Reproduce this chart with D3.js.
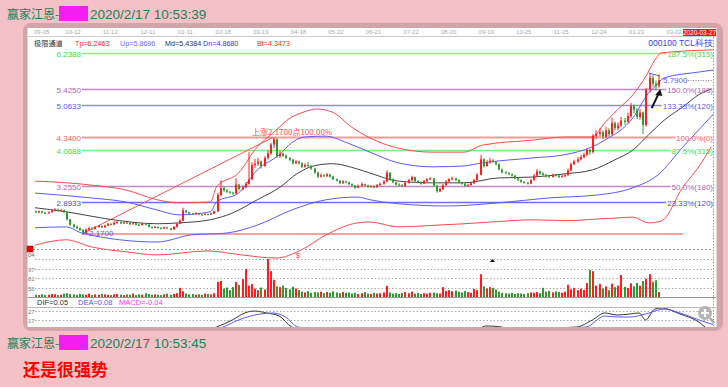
<!DOCTYPE html>
<html><head><meta charset="utf-8">
<script src="https://cdn.jsdelivr.net/npm/d3@7"></script>
<style>
html,body{margin:0;padding:0;background:#f4c1c6;overflow:hidden;}
svg{display:block;}
</style></head><body>
<svg id="c" width="728" height="387"></svg>
<script>
// ---------- data ----------
const dateLabels = ["09-05","10-12","11-12","12-11","01-11","02-18","03-19","04-18","05-22","06-21","07-22","08-20","09-19","10-25","11-25","12-24","01-23","03-02"];
const dateIdx = [0,10,22,34,46,58,70,82,94,106,118,130,142,154,166,178,190,202];

const openP = [2.68,2.66,2.68,2.65,2.64,2.66,2.70,2.72,2.69,2.71,2.66,2.50,2.38,2.33,2.30,2.26,2.20,2.27,2.30,2.28,
2.33,2.35,2.32,2.36,2.40,2.38,2.42,2.44,2.41,2.43,2.42,2.39,2.41,2.38,2.37,2.40,2.38,2.33,2.31,2.33,
2.31,2.29,2.32,2.30,2.27,2.33,2.40,2.47,2.70,2.66,2.63,2.62,2.64,2.61,2.60,2.62,2.61,2.63,2.68,3.05,
3.20,3.15,3.12,3.10,3.08,3.28,3.18,3.22,3.30,3.40,3.72,3.75,3.80,3.70,3.88,3.98,4.18,4.30,3.92,3.98,
3.93,3.88,3.84,3.76,3.80,3.76,3.68,3.72,3.70,3.64,3.55,3.46,3.49,3.47,3.51,3.46,3.40,3.37,3.31,3.35,
3.33,3.29,3.26,3.21,3.25,3.29,3.26,3.23,3.25,3.22,3.27,3.30,3.35,3.55,3.40,3.33,3.28,3.27,3.25,3.32,
3.38,3.45,3.36,3.33,3.30,3.36,3.40,3.42,3.26,3.13,3.18,3.27,3.35,3.40,3.42,3.38,3.33,3.30,3.25,3.27,
3.31,3.38,3.50,3.85,3.70,3.78,3.82,3.79,3.74,3.62,3.56,3.54,3.51,3.48,3.42,3.38,3.34,3.32,3.30,3.38,
3.48,3.58,3.53,3.50,3.47,3.45,3.50,3.48,3.45,3.47,3.49,3.60,3.74,3.80,3.85,3.90,3.95,4.06,4.01,4.38,
4.42,4.46,4.36,4.50,4.41,4.66,4.55,4.61,4.72,4.69,4.82,5.05,4.96,4.80,4.90,4.62,5.42,5.68,5.55,5.50];
const closeP = [2.66,2.68,2.65,2.64,2.66,2.70,2.72,2.69,2.71,2.66,2.50,2.38,2.33,2.30,2.26,2.20,2.27,2.30,2.28,2.33,
2.35,2.32,2.36,2.40,2.38,2.42,2.44,2.41,2.43,2.42,2.39,2.41,2.38,2.37,2.40,2.38,2.33,2.31,2.33,2.31,
2.29,2.32,2.30,2.27,2.33,2.40,2.47,2.70,2.66,2.63,2.62,2.64,2.61,2.60,2.62,2.61,2.63,2.68,3.05,3.20,
3.15,3.12,3.10,3.08,3.28,3.18,3.22,3.30,3.40,3.72,3.75,3.80,3.70,3.88,3.98,4.18,4.30,3.92,3.98,3.93,
3.88,3.84,3.76,3.80,3.76,3.68,3.72,3.70,3.64,3.55,3.46,3.49,3.47,3.51,3.46,3.40,3.37,3.31,3.35,3.33,
3.29,3.26,3.21,3.25,3.29,3.26,3.23,3.25,3.22,3.27,3.30,3.35,3.55,3.40,3.33,3.28,3.27,3.25,3.32,3.38,
3.45,3.36,3.33,3.30,3.36,3.40,3.42,3.26,3.13,3.18,3.27,3.35,3.40,3.42,3.38,3.33,3.30,3.25,3.27,3.31,
3.38,3.50,3.85,3.70,3.78,3.82,3.79,3.74,3.62,3.56,3.54,3.51,3.48,3.42,3.38,3.34,3.32,3.30,3.38,3.48,
3.58,3.53,3.50,3.47,3.45,3.50,3.48,3.45,3.47,3.49,3.60,3.74,3.80,3.85,3.90,3.95,4.06,4.01,4.38,4.42,
4.46,4.36,4.50,4.41,4.66,4.55,4.61,4.72,4.69,4.82,5.05,4.96,4.80,4.90,4.62,5.42,5.68,5.55,5.50,5.63];
const highP = [2.70,2.70,2.69,2.67,2.68,2.72,2.75,2.74,2.73,2.72,2.67,2.51,2.40,2.36,2.32,2.28,2.29,2.33,2.32,2.35,
2.37,2.36,2.38,2.42,2.41,2.46,2.47,2.45,2.45,2.44,2.43,2.43,2.42,2.40,2.42,2.41,2.39,2.34,2.35,2.34,
2.32,2.34,2.33,2.31,2.35,2.42,2.50,2.76,2.71,2.67,2.65,2.66,2.65,2.63,2.64,2.63,2.65,2.70,3.10,3.38,
3.24,3.18,3.14,3.12,3.42,3.30,3.26,3.34,4.01,3.78,3.86,3.88,3.82,3.92,4.05,4.22,4.34,4.32,4.05,4.00,
3.96,3.90,3.86,3.83,3.82,3.78,3.76,3.79,3.72,3.66,3.57,3.53,3.52,3.54,3.52,3.48,3.42,3.38,3.38,3.37,
3.35,3.31,3.27,3.28,3.33,3.30,3.28,3.27,3.26,3.29,3.33,3.38,3.60,3.56,3.42,3.35,3.31,3.29,3.34,3.41,
3.48,3.46,3.38,3.35,3.39,3.43,3.45,3.43,3.27,3.21,3.30,3.38,3.43,3.46,3.43,3.40,3.35,3.32,3.30,3.34,
3.41,3.54,3.95,3.87,3.83,3.88,3.86,3.81,3.76,3.64,3.58,3.56,3.53,3.50,3.44,3.40,3.36,3.34,3.41,3.52,
3.63,3.60,3.56,3.52,3.50,3.53,3.52,3.50,3.50,3.52,3.64,3.78,3.84,3.90,3.95,4.00,4.10,4.08,4.42,4.50,
4.55,4.50,4.58,4.55,4.78,4.70,4.68,4.80,4.78,4.90,5.12,5.08,5.00,4.98,4.92,5.45,5.79,5.74,5.62,5.76];
const lowP = [2.64,2.64,2.63,2.62,2.62,2.65,2.68,2.67,2.67,2.64,2.47,2.35,2.30,2.28,2.24,2.17,2.19,2.25,2.26,2.27,
2.31,2.30,2.31,2.35,2.36,2.37,2.40,2.39,2.40,2.40,2.37,2.38,2.36,2.35,2.36,2.36,2.31,2.29,2.30,2.29,
2.27,2.28,2.28,2.25,2.26,2.32,2.39,2.46,2.63,2.61,2.60,2.60,2.59,2.58,2.59,2.59,2.60,2.62,2.67,3.02,
3.12,3.09,3.07,3.05,3.07,3.15,3.15,3.20,3.28,3.38,3.66,3.70,3.64,3.68,3.84,3.95,4.10,3.88,3.88,3.90,
3.85,3.80,3.73,3.74,3.73,3.65,3.66,3.67,3.61,3.52,3.43,3.44,3.45,3.45,3.44,3.38,3.35,3.29,3.30,3.31,
3.27,3.24,3.18,3.20,3.24,3.24,3.21,3.21,3.20,3.21,3.25,3.28,3.34,3.37,3.31,3.26,3.25,3.23,3.24,3.30,
3.36,3.33,3.31,3.28,3.29,3.34,3.38,3.23,3.10,3.11,3.16,3.25,3.33,3.38,3.36,3.31,3.28,3.23,3.23,3.26,
3.30,3.37,3.49,3.66,3.68,3.75,3.76,3.71,3.60,3.53,3.51,3.49,3.46,3.40,3.36,3.32,3.30,3.28,3.29,3.37,
3.46,3.50,3.48,3.44,3.43,3.44,3.46,3.43,3.44,3.45,3.48,3.58,3.72,3.77,3.82,3.87,3.92,3.95,3.98,4.30,
4.36,4.30,4.33,4.36,4.38,4.50,4.50,4.58,4.62,4.66,4.78,4.88,4.75,4.74,4.42,4.58,5.35,5.48,5.40,5.46];
const volume = [6,5,7,5,6,8,7,5,6,9, 10,8,7,6,8,7,6,9,5,7, 6,8,7,6,5,7,8,6,5,7, 6,9,5,7,6,10,8,6,7,6,
5,7,9,6,8,10,24,15,9,7, 8,6,7,6,9,8,7,10,40,42, 22,25,18,26,40,32,47,74,30,34, 22,18,25,20,100,68,45,28,26,30,
24,20,27,22,18,14,12,15,11,13, 12,14,10,13,11,15,12,10,13,11, 12,9,11,8,10,13,9,8,11,9, 10,12,29,12,9,10,8,11,13,10,
14,9,11,8,10,9,11,12,10,9, 26,16,18,15,17,14,12,16,13,11, 21,18,60,28,22,26,24,20,14,11, 10,9,11,8,10,9,8,10,12,11,
13,10,24,14,16,12,15,13,11,14, 32,20,24,18,22,19,37,71,68,30, 34,22,28,18,35,26,30,58,27,24, 36,28,37,30,42,48,60,40,44,13];

// channel curves (index, price)
const redUpIdx = [0,18,29,39,46,56,58,65,71,76,82,85,90,95,101,107,116,127,137,143,159,169,178,182,186,191,195,198,200,217];
const redUpVal = [3.36,3.27,3.16,2.94,2.87,2.89,3.23,3.54,4.13,4.44,4.80,4.89,4.98,4.91,4.58,4.33,4.10,4.01,4.01,4.17,4.28,4.35,4.35,4.67,4.96,5.30,5.70,6.08,6.24,6.31];
const blueUpIdx = [0,18,29,39,46,56,58,65,71,78,82,86,93,99,107,116,127,137,143,159,169,178,182,191,196,198,201,212,217];
const blueUpVal = [3.09,2.98,2.89,2.71,2.60,2.67,2.89,3.09,3.61,3.95,4.22,4.35,4.37,4.24,4.01,3.77,3.68,3.70,3.77,3.88,3.95,4.13,4.28,4.78,5.34,5.48,5.68,5.81,5.86];
const midIdx = [0,10,23,39,46,56,63,71,78,84,89,95,103,107,116,127,137,148,159,169,178,185,191,196,201,207,212,216];
const midVal = [2.76,2.67,2.51,2.40,2.42,2.49,2.64,2.94,3.21,3.54,3.70,3.75,3.63,3.54,3.36,3.32,3.32,3.43,3.45,3.52,3.61,3.83,4.06,4.40,4.73,5.03,5.30,5.43];
const blueLoIdx = [0,10,15,39,50,61,71,82,93,103,107,116,132,148,164,180,191,199,207,212,217];
const blueLoVal = [2.31,2.33,2.19,1.99,2.15,2.19,2.37,2.71,2.94,3.00,2.94,2.85,2.80,2.87,2.98,3.05,3.21,3.50,4.13,4.51,4.89];
const redLoIdx = [0,10,18,29,39,55,66,77,85,93,103,107,116,126,137,148,159,170,180,186,191,196,200,207,212,216];
const redLoVal = [1.92,2.04,1.88,1.77,1.70,1.79,1.70,1.63,1.81,2.15,2.42,2.44,2.33,2.36,2.40,2.45,2.49,2.47,2.51,2.53,2.55,2.42,2.46,3.23,3.68,4.13];

// Gann / fib levels
const levelVals = [6.2388,5.4250,5.0633,4.3400,4.0688,3.2550,2.8933];
const levelLeft = ["6.2388","5.4250","5.0633","4.3400","4.0688","3.2550","2.8933"];
const levelRight = ["187.5%(315)","150.0%(180)","133.33%(120)","100.0%(0)","87.5%(315)","50.0%(180)","23.33%(120)"];
const levelLine = ["#7cf07c","#c487c4","#8d8dff","#ff9a9a","#7cf07c","#c487c4","#6f6fff"];
const levelText = ["#3fdc3f","#b060b0","#5a5af0","#ff5a5a","#3fdc3f","#b060b0","#4a4ae8"];

// MACD
const difIdx = [0,20,45,58,63,67,70,74,78,82,91,120,142,144,148,152,173,178,182,186,190,193,195,198,200,206,212,214,217];
const difVal = [-0.05,-0.10,-0.08,0,0.07,0.14,0.16,0.14,0.11,0,-0.06,-0.05,-0.01,0.01,0.005,-0.02,0,0.07,0.14,0.12,0.13,0.14,0.07,0.18,0.19,0.13,0.05,0,-0.05];
const deaIdx = [0,20,45,60,65,72,76,80,84,100,140,160,176,182,186,190,195,201,206,214,217];
const deaVal = [-0.04,-0.08,-0.07,0,0.07,0.13,0.14,0.10,0,-0.05,-0.03,-0.02,0,0.11,0.10,0.10,0.13,0.18,0.14,0.05,0.02];

const infoLabels = ["极限通道","Tp=6.2463","Up=5.8696","Md=5.4384","Dn=4.8680","Bt=4.3473"];
const infoColors = ["#333","#ff2a2a","#6b6bff","#333","#3535f0","#ff2a2a"];
const macdLabels = ["DIF=0.05","DEA=0.08","MACD=-0.04"];
const macdColors = ["#333","#5a5af0","#ff33ff"];

// ---------- drawing ----------
const svg = d3.select("#c");
const F = "Arial, 'Liberation Sans', sans-serif";
const CJK = "'Noto Sans CJK SC', sans-serif";

// window frame
svg.append("rect").attr("x",23).attr("y",23).attr("width",700).attr("height",308).attr("rx",8).attr("fill","#d2a5ab");
svg.append("rect").attr("x",27.5).attr("y",28).attr("width",689).attr("height",299).attr("fill","#fff");

const defs = svg.append("defs");
defs.append("clipPath").attr("id","cp").append("rect").attr("x",28).attr("y",37).attr("width",685).attr("height",224);
defs.append("clipPath").attr("id","cm").append("rect").attr("x",28).attr("y",308).attr("width",685).attr("height",19);

const x = d3.scaleLinear().domain([0,199]).range([35,658]);
const y = d3.scaleLinear().domain([2.17,6.2388]).range([234,53]);
const yv = d3.scaleLinear().domain([0,100]).range([297,259]);
const ym = d3.scaleLinear().domain([0,0.2]).range([327,307]);

// date axis
svg.append("line").attr("x1",28).attr("x2",716).attr("y1",36.5).attr("y2",36.5).attr("stroke","#ccc");
svg.selectAll(".dl").data(dateLabels).enter().append("text")
  .attr("x",(d,i)=>x(dateIdx[i])-1).attr("y",34).text(d=>d)
  .attr("font-family",F).attr("font-size",6).attr("fill","#aaa");
svg.append("rect").attr("x",683).attr("y",29).attr("width",33).attr("height",7).attr("fill","#ff1010");
svg.append("text").attr("x",699.5).attr("y",35).attr("text-anchor","middle").text("2020-03-27")
  .attr("font-family",F).attr("font-size",6.5).attr("fill","#fff");

// info row
const infoX = [34,75,120,165,203,257];
svg.selectAll(".il").data(infoLabels).enter().append("text")
  .attr("x",(d,i)=>infoX[i]).attr("y",46).text(d=>d)
  .attr("font-family",(d,i)=>i===0?CJK:F).attr("font-size",7.2).attr("fill",(d,i)=>infoColors[i]);
svg.append("text").attr("x",713).attr("y",46).attr("text-anchor","end").text("000100 TCL科技")
  .attr("font-family",F).attr("font-size",8.5).attr("fill","#3b3bff");

// right vertical dotted line
svg.append("line").attr("x1",713.5).attr("x2",713.5).attr("y1",37).attr("y2",327).attr("stroke","#999").attr("stroke-dasharray","1.5,1.5");

const gp = svg.append("g").attr("clip-path","url(#cp)");

// levels
levelVals.forEach((v,i)=>{
  const yy = Math.round(y(v))+0.5;
  const t = svg.append("text").attr("x",713).attr("y",yy+3).attr("text-anchor","end").text(levelRight[i])
    .attr("font-family",F).attr("font-size",8).attr("fill",levelText[i]);
  const w = t.node().getComputedTextLength();
  gp.insert("line",":first-child").attr("x1",x(15)).attr("x2",713-w-1).attr("y1",yy).attr("y2",yy)
    .attr("stroke",levelLine[i]).attr("stroke-width",i===3?2:1.5);
  svg.append("text").attr("x",81).attr("y",yy+3).attr("text-anchor","end").text(levelLeft[i])
    .attr("font-family",F).attr("font-size",8).attr("fill",levelText[i]);
});
// base line at low
gp.append("line").attr("x1",x(15)).attr("x2",x(207)).attr("y1",y(2.17)).attr("y2",y(2.17)).attr("stroke","#ff4040").attr("stroke-width",1);
// trend line low -> high
gp.append("line").attr("x1",x(15)).attr("y1",y(2.17)).attr("x2",x(76)).attr("y2",y(4.34)).attr("stroke","#ff5050").attr("stroke-width",1);

// curves
const line = d3.line().x(d=>x(d[0])).y(d=>y(d[1])).curve(d3.curveMonotoneX);
const curves = [[redUpIdx,redUpVal,"#ff4a4a"],[blueUpIdx,blueUpVal,"#5a5aff"],[midIdx,midVal,"#444"],[blueLoIdx,blueLoVal,"#5a5aff"],[redLoIdx,redLoVal,"#ff4a4a"]];
curves.forEach(c=>{
  gp.append("path").attr("d",line(c[0].map((d,i)=>[d,c[1][i]]))).attr("fill","none").attr("stroke",c[2]).attr("stroke-width",1);
});

// candles
const idx = d3.range(closeP.length);
const up = i => closeP[i] >= openP[i];
const RED = "#ff1e1e", GREEN = "#2f9a2f";
gp.selectAll(".wk").data(idx).enter().append("line")
  .attr("x1",i=>Math.round(x(i))+1).attr("x2",i=>Math.round(x(i))+1)
  .attr("y1",i=>y(highP[i])).attr("y2",i=>y(lowP[i]))
  .attr("stroke",i=>up(i)?RED:GREEN).attr("stroke-width",1);
gp.selectAll(".bd").data(idx).enter().append("rect")
  .attr("x",i=>Math.round(x(i))).attr("width",2)
  .attr("y",i=>y(Math.max(openP[i],closeP[i])))
  .attr("height",i=>Math.max(1,Math.abs(y(openP[i])-y(closeP[i]))))
  .attr("fill",i=>up(i)?RED:GREEN);

// annotations
svg.append("text").attr("x",252).attr("y",135).text("上涨2.1700点100.00%")
  .attr("font-family",CJK).attr("font-size",8).attr("fill","#ff4a4a");
svg.append("line").attr("x1",x(15)).attr("x2",x(17)).attr("y1",y(2.17)-1).attr("y2",y(2.17)-1).attr("stroke","#5a5aff");
svg.append("text").attr("x",89).attr("y",y(2.17)+2).text("2.1700")
  .attr("font-family",F).attr("font-size",8).attr("fill","#5a5aff");
svg.append("text").attr("x",663).attr("y",83).text("5.7900")
  .attr("font-family",F).attr("font-size",8).attr("fill","#5a5aff");
svg.append("line").attr("x1",688).attr("x2",713).attr("y1",80.5).attr("y2",80.5).attr("stroke","#888").attr("stroke-dasharray","1,1.5");
gp.append("line").attr("x1",x(196)).attr("y1",y(5.79)).attr("x2",x(199.6)).attr("y2",y(5.72)).attr("stroke","#5a5aff");
// arrow
const ax1=x(197), ay1=y(5.00), ax2=x(199.4), ay2=y(5.36);
svg.append("line").attr("x1",ax1).attr("y1",ay1).attr("x2",ax2).attr("y2",ay2).attr("stroke","#111").attr("stroke-width",2);
svg.append("path").attr("d",`M${ax2+1},${ay2-3} L${ax2-4},${ay2+3} L${ax2+3},${ay2+4} Z`).attr("fill","#111");
svg.append("text").attr("x",296).attr("y",258).text("$").attr("font-family",F).attr("font-size",7).attr("fill","#ff4040");

// separator / volume panel
svg.append("line").attr("x1",33).attr("x2",713).attr("y1",249.5).attr("y2",249.5).attr("stroke","#999").attr("stroke-dasharray","2,2");
svg.append("rect").attr("x",27).attr("y",246).attr("width",6).attr("height",6).attr("fill","#ff0000").attr("stroke","#a00").attr("stroke-width",0.5);
svg.append("text").attr("x",28).attr("y",257).text("04").attr("font-family",F).attr("font-size",6).attr("fill","#666");
const volGrid = [259,269,278,288];
const volGridLab = ["","97","81","56"];
volGrid.forEach((g,i)=>{
  svg.append("line").attr("x1",35).attr("x2",713).attr("y1",g+0.5).attr("y2",g+0.5).attr("stroke","#aaa").attr("stroke-dasharray","1.5,2");
  if(volGridLab[i]) svg.append("text").attr("x",28).attr("y",g+3).text(volGridLab[i]).attr("font-family",F).attr("font-size",6).attr("fill","#777");
});
svg.selectAll(".vb").data(idx).enter().append("rect")
  .attr("x",i=>Math.round(x(i))).attr("width",2)
  .attr("y",i=>yv(volume[i])).attr("height",i=>yv(0)-yv(volume[i]))
  .attr("fill",i=>up(i)?RED:GREEN);
svg.append("path").attr("d","M490,262 L492.5,259 L495,262 Z").attr("fill","#111");
svg.append("line").attr("x1",28).attr("x2",716).attr("y1",297.5).attr("y2",297.5).attr("stroke","#999");

// MACD panel
const macdX = [37,78,119];
svg.selectAll(".ml").data(macdLabels).enter().append("text")
  .attr("x",(d,i)=>macdX[i]).attr("y",305).text(d=>d)
  .attr("font-family",F).attr("font-size",7.5).attr("fill",(d,i)=>macdColors[i]);
svg.append("line").attr("x1",28).attr("x2",716).attr("y1",307.5).attr("y2",307.5).attr("stroke","#bbb");
[[311,"27"],[320,"17"]].forEach(g=>{
  svg.append("line").attr("x1",35).attr("x2",713).attr("y1",g[0]+0.5).attr("y2",g[0]+0.5).attr("stroke","#aaa").attr("stroke-dasharray","1.5,2");
  svg.append("text").attr("x",28).attr("y",g[0]+3).text(g[1]).attr("font-family",F).attr("font-size",6).attr("fill","#777");
});
const gm = svg.append("g").attr("clip-path","url(#cm)");
const mline = d3.line().x(d=>x(d[0])).y(d=>ym(d[1])).curve(d3.curveMonotoneX);
gm.append("path").attr("d",mline(difIdx.map((d,i)=>[d,difVal[i]]))).attr("fill","none").attr("stroke","#333").attr("stroke-width",1);
gm.append("path").attr("d",mline(deaIdx.map((d,i)=>[d,deaVal[i]]))).attr("fill","none").attr("stroke","#5a5aff").attr("stroke-width",1);

// zoom icon
svg.append("circle").attr("cx",705).attr("cy",313).attr("r",7).attr("fill","#a9a9a9").attr("opacity",0.85);
svg.append("path").attr("d","M701,313 H709 M705,309 V317").attr("stroke","#fff").attr("stroke-width",2.2);
svg.append("line").attr("x1",710).attr("y1",318).attr("x2",714).attr("y2",323).attr("stroke","#a9a9a9").attr("stroke-width",2.5);

// chat messages
function header(yb, t){
  svg.append("text").attr("x",7).attr("y",yb).text("赢家江恩-").attr("font-family",CJK).attr("font-size",12).attr("fill","#15845a");
  svg.append("rect").attr("x",59).attr("y",yb-13).attr("width",29).attr("height",15).attr("fill","#f21ef2");
  svg.append("text").attr("x",90).attr("y",yb).text(t).attr("font-family",F).attr("font-size",13.5).attr("fill","#15845a");
}
header(19,"2020/2/17 10:53:39");
header(348,"2020/2/17 10:53:45");
svg.append("text").attr("x",23).attr("y",376).text("还是很强势").attr("font-family",CJK).attr("font-size",17).attr("font-weight","bold").attr("fill","#ff0000");
</script>
</body></html>
